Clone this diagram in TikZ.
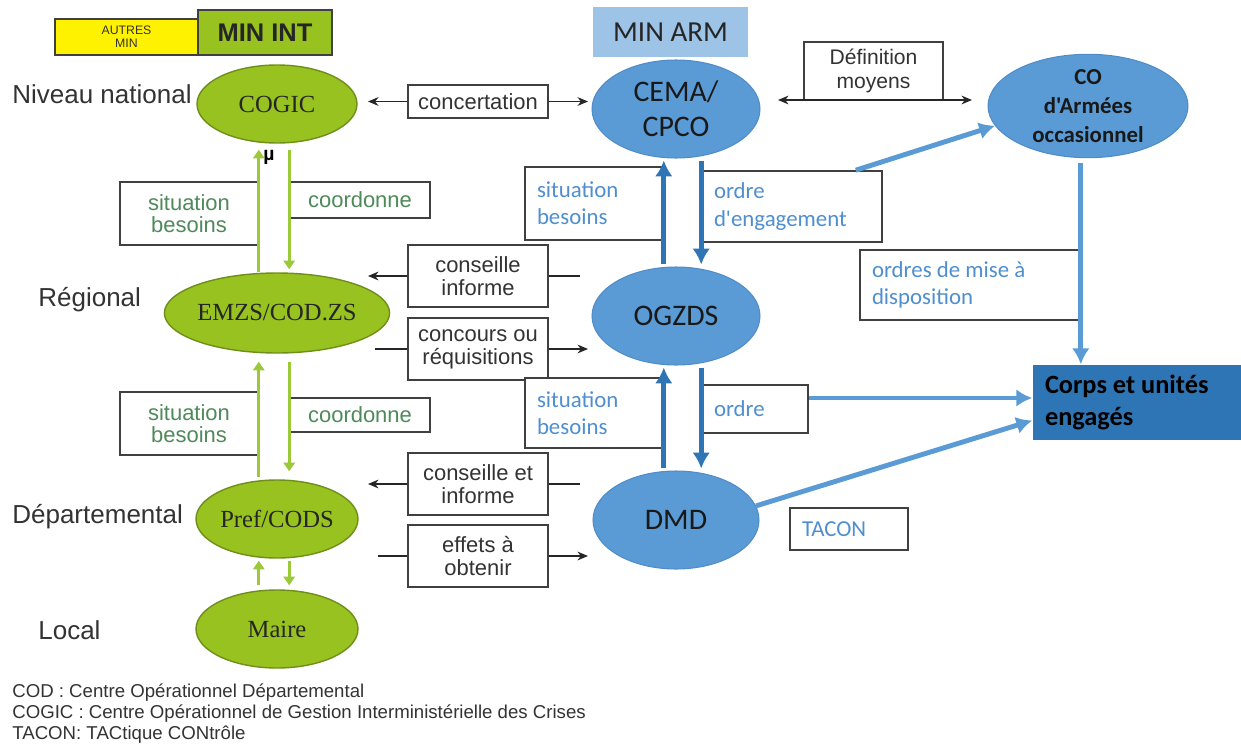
\documentclass[tikz,border=0pt]{standalone}
\usepackage{fontspec}
\setmainfont{Liberation Sans}
\newfontfamily\calfont{Carlito}
\newfontfamily\serfont{Liberation Serif}
\usetikzlibrary{shapes.geometric,arrows.meta}
\definecolor{gfill}{HTML}{97C21F}
\definecolor{gdraw}{HTML}{6F8F1A}
\definecolor{garrow}{HTML}{9BC93A}
\definecolor{gtext}{HTML}{4E8A5A}
\definecolor{bfill}{HTML}{5B9BD5}
\definecolor{bdraw}{HTML}{4F8CC9}
\definecolor{minarm}{HTML}{9DC3E6}
\definecolor{corpsfill}{HTML}{2E75B6}
\definecolor{darrow}{HTML}{2E75B6}
\definecolor{larrow}{HTML}{5B9BD5}
\definecolor{btext}{HTML}{4F8FD0}
\definecolor{boxgray}{HTML}{404040}
\definecolor{txt}{HTML}{333333}
\newcommand{\pixbox}[7]{%
 \pgfmathsetmacro\pbw{(#4-#2)*0.02}%
 \pgfmathsetmacro\pbh{(#5-#3)*0.02}%
 \pgfmathsetmacro\pbtw{(#4-#2)*0.02-0.48}%
 \node[#6, minimum width=\pbw cm, minimum height=\pbh cm] (#1) at ({(#2+#4)/2},{(#3+#5)/2}) {#7};}
\tikzset{
 box/.style={rectangle, draw=boxgray, line width=0.9pt, fill=white, inner sep=0pt, align=center},
 bbox/.style={box, text=txt, font=\fontsize{12.5}{13}\selectfont},
 gbox/.style={box, text=gtext, font=\fontsize{12.5}{12.5}\selectfont},
 lbox/.style={box, text width=\pbtw cm, align=flush left, inner xsep=0.24cm, inner ysep=0pt, text=btext, font=\calfont\fontsize{13}{15.5}\selectfont},
 gell/.style={ellipse, fill=gfill, draw=gdraw, line width=0.8pt, inner sep=0pt, text=black!85, font=\serfont\fontsize{14}{16}\selectfont},
 bell/.style={ellipse, fill=bfill, draw=bdraw, line width=0.6pt, inner sep=0pt, align=center, text=black!90, font=\calfont\fontsize{17}{20}\selectfont},
 lvl/.style={anchor=west, text=txt, font=\fontsize{14.8}{16}\selectfont, inner sep=0pt},
 leg/.style={anchor=west, text=txt, font=\fontsize{10.6}{12}\selectfont, inner sep=0pt},
 blk/.style={draw=black!85, line width=0.85pt},
 blkarr/.style={blk, -{Stealth[length=6pt,width=5pt]}},
 blkboth/.style={blk, {Stealth[length=6pt,width=5pt]}-{Stealth[length=6pt,width=5pt]}},
 garr/.style={draw=garrow, line width=1.8pt, -{Triangle[length=5pt,width=6.5pt]}},
 darr/.style={draw=darrow, line width=2.8pt, -{Latex[length=9pt,width=10pt]}},
 larr/.style={draw=larrow, line width=2.8pt, -{Latex[length=9pt,width=10pt]}}
}
\begin{document}
\begin{tikzpicture}[x=0.02cm,y=-0.02cm]
\useasboundingbox (0,0) rectangle (1241,744);
\fill[white] (0,0) rectangle (1241,744);

% header boxes
\pixbox{autres}{55}{19}{198}{55}{box, fill=yellow, text=txt, font=\fontsize{7}{7.5}\selectfont}{AUTRES\\MIN}
\pixbox{minint}{198}{10}{332}{55}{box, fill=gfill, text=black!85, font=\bfseries\fontsize{14.5}{16}\selectfont}{MIN INT}
\pixbox{minarm}{593}{7}{748}{57}{rectangle, fill=minarm, inner sep=0pt, text=black!85, font=\calfont\fontsize{16.5}{18}\selectfont}{MIN ARM}

% level labels
\node[lvl] (lnat) at (12,94) {Niveau national};
\node[lvl] (lreg) at (38,300) {Régional};
\node[lvl] (ldep) at (12,517) {Départemental};
\node[lvl] (lloc) at (38,630) {Local};

% green ellipses
\node[gell, minimum width=3.2cm, minimum height=1.56cm] (cogic) at (277,104) {COGIC};
\node[gell, minimum width=3.68cm, minimum height=1.6cm] (emzs) at (277,313) {EMZS/COD.ZS};
\node[gell, minimum width=3.24cm, minimum height=1.56cm] (pref) at (277,519) {Pref/CODS};
\node[gell, minimum width=3.24cm, minimum height=1.56cm] (maire) at (277,629) {Maire};
\node[inner sep=0pt, font=\bfseries\fontsize{11}{12}\selectfont] (mu) at (269,157) {µ};

% blue ellipses
\node[bell, minimum width=3.36cm, minimum height=1.96cm] (cema) at (676,109) {CEMA/\\CPCO};
\node[bell, minimum width=3.36cm, minimum height=1.96cm] (ogzds) at (676,316) {OGZDS};
\node[bell, minimum width=3.32cm, minimum height=1.96cm] (dmd) at (676,520) {DMD};
\node[bell, minimum width=4cm, minimum height=1.96cm, font=\calfont\bfseries\fontsize{13}{16.5}\selectfont] (co) at (1088,106) {CO\\d'Armées\\occasionnel};

% green label boxes
\pixbox{gsit1}{120}{182}{258}{245}{gbox}{situation\\besoins}
\pixbox{gcoord1}{290}{182}{430}{218}{gbox}{coordonne}
\pixbox{gsit2}{120}{392}{258}{455}{gbox}{situation\\besoins}
\pixbox{gcoord2}{290}{398}{430}{432}{gbox}{coordonne}

% black label boxes
\pixbox{concert}{408}{85}{548}{118}{bbox}{concertation}
\pixbox{conseil1}{408}{245}{548}{307}{bbox}{conseille\\informe}
\pixbox{concours}{408}{318}{548}{380}{bbox}{concours ou\\réquisitions}
\pixbox{conseil2}{408}{453}{548}{515}{bbox}{conseille et\\informe}
\pixbox{effets}{408}{525}{548}{587}{bbox}{effets à\\obtenir}
\pixbox{defin}{804}{42}{943}{100}{bbox, font=\fontsize{12}{13.5}\selectfont}{Définition\\moyens}

% blue text boxes
\pixbox{bsit1}{525}{167}{663}{240}{lbox}{situation\\besoins}
\pixbox{bordre1}{702}{171}{882}{242}{lbox}{ordre\\d'engagement}
\pixbox{bmise}{860}{250}{1080}{320}{lbox}{ordres de mise à\\disposition}
\pixbox{bsit2}{525}{378}{663}{448}{lbox}{situation\\besoins}
\pixbox{bordre2}{702}{385}{808}{433}{lbox}{ordre}
\pixbox{tacon}{790}{508}{908}{550}{lbox}{TACON}
\pixbox{corps}{1033}{365}{1241}{440}{lbox, draw=none, fill=corpsfill, text=black, font=\calfont\bfseries\fontsize{15}{18}\selectfont}{Corps et unités\\engagés}

% free ends
\coordinate (c0l) at (368,101);
\coordinate (c0r) at (588,101);
\coordinate (c1l) at (368,276);
\coordinate (c1r) at (580,276);
\coordinate (c2l) at (375,349);
\coordinate (c2r) at (588,349);
\coordinate (c3l) at (368,484);
\coordinate (c3r) at (580,484);
\coordinate (c4l) at (378,556);
\coordinate (c4r) at (588,556);
\coordinate (dl) at (778,100);
\coordinate (dr) at (972,100);

% black connectors
\draw[blkarr] (concert.west) -- (concert.west -| c0l);
\draw[blkarr] (concert.east) -- (concert.east -| c0r);
\draw[blk] (c1r) -- (conseil1.east |- c1r);
\draw[blkarr] (conseil1.west |- c1l) -- (c1l);
\draw[blk] (c2l) -- (concours.west |- c2l);
\draw[blkarr] (concours.east |- c2r) -- (c2r);
\draw[blk] (c3r) -- (conseil2.east |- c3r);
\draw[blkarr] (conseil2.west |- c3l) -- (c3l);
\draw[blk] (c4l) -- (effets.west |- c4l);
\draw[blkarr] (effets.east |- c4r) -- (c4r);
\draw[blkboth] (dl) -- (dr);

% green arrows
\draw[garr] (emzs.north -| gsit1.east) -- ([shift={(0,6)}]cogic.south -| gsit1.east);
\draw[garr] ([shift={(0,6)}]cogic.south -| gcoord1.west) -- ([shift={(0,-3)}]emzs.north -| gcoord1.west);
\draw[garr] ([shift={(0,-2)}]pref.north -| gsit2.east) -- ([shift={(0,8)}]emzs.south -| gsit2.east);
\draw[garr] ([shift={(0,8)}]emzs.south -| gcoord2.west) -- ([shift={(0,-8)}]pref.north -| gcoord2.west);
\draw[garr] ([shift={(0,-4)}]maire.north -| gsit2.east) -- ([shift={(0,2)}]pref.south -| gsit2.east);
\draw[garr] ([shift={(0,2)}]pref.south -| gcoord2.west) -- ([shift={(0,-4)}]maire.north -| gcoord2.west);

% blue arrows
\draw[darr] ([shift={(0,-2)}]ogzds.north -| bsit1.east) -- ([shift={(0,2)}]cema.south -| bsit1.east);
\draw[darr] ([shift={(0,2)}]cema.south -| bordre1.west) -- ([shift={(0,-2)}]ogzds.north -| bordre1.west);
\draw[darr] ([shift={(0,-2)}]dmd.north -| bsit2.east) -- ([shift={(0,2)}]ogzds.south -| bsit2.east);
\draw[darr] ([shift={(0,2)}]ogzds.south -| bordre2.west) -- ([shift={(0,-2)}]dmd.north -| bordre2.west);
\draw[larr] ([shift={(-27,0)}]bordre1.north east) -- (co.192);
\draw[larr] ([shift={(0,5)}]co.south -| bmise.east) -- (corps.north -| bmise.east);
\coordinate (o2) at ([shift={(0,-11)}]bordre2.east);
\draw[larr] (o2) -- (o2 -| corps.west);
\draw[larr] (dmd.10) -- ([shift={(0,18)}]corps.west);

% legend
\node[leg] (leg1) at (12,693) {COD :  Centre Opérationnel Départemental};
\node[leg] (leg2) at (12,714) {COGIC : Centre Opérationnel de Gestion Interministérielle des Crises};
\node[leg] (leg3) at (12,735) {TACON: TACtique CONtrôle};
\end{tikzpicture}
\end{document}
